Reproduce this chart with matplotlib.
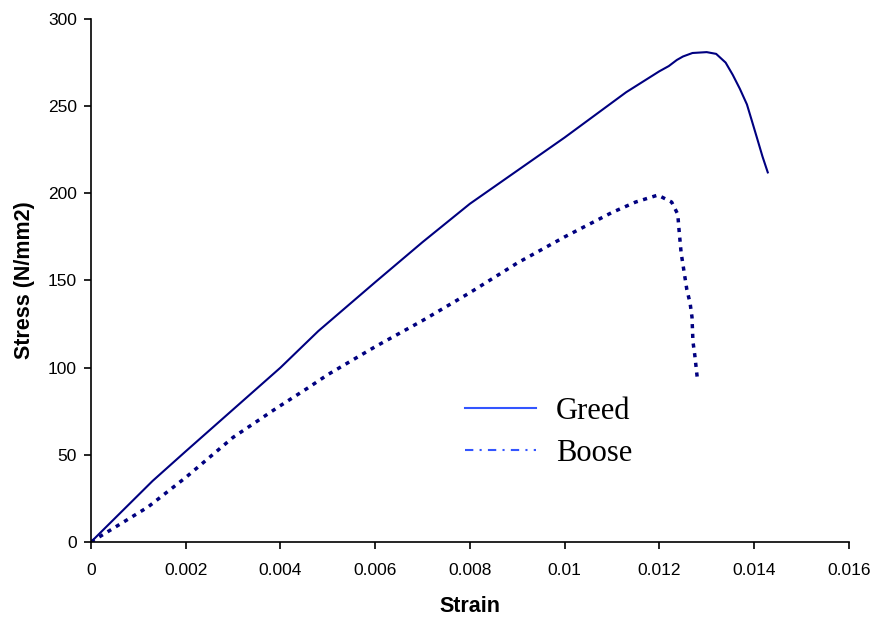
import matplotlib.pyplot as plt
from matplotlib.lines import Line2D

# Greed specimen
greed_strain = [0, 0.0013, 0.002, 0.003, 0.004, 0.0048, 0.006, 0.007, 0.008, 0.009,
                0.010, 0.011, 0.0113, 0.012, 0.0122, 0.01237, 0.0125, 0.0127, 0.0130,
                0.0132, 0.0134, 0.01355, 0.0137, 0.01385, 0.01395, 0.01406, 0.01418,
                0.01429]
greed_stress = [0, 35, 52, 76, 100, 121, 149, 172, 194, 213,
                232, 252, 258, 270, 273, 276.5, 278.5, 280.5, 281,
                280, 275, 268, 260, 251, 242, 232, 221,
                212]

# Boose specimen
boose_strain = [0, 0.0012, 0.002, 0.003, 0.00393, 0.00456, 0.005, 0.006, 0.007, 0.008,
                0.009, 0.010, 0.011, 0.0115, 0.01197, 0.01226, 0.01239, 0.01241,
                0.01246, 0.01254, 0.01258, 0.01265, 0.01269, 0.01271, 0.01275, 0.01281]
boose_stress = [0, 20, 37, 60, 77, 88, 96, 112, 127, 143,
                160, 175, 189, 195, 199, 195, 188, 181,
                166, 152, 145, 137, 129, 115, 107, 92]

navy = '#000080'

fig = plt.figure(figsize=(8.75, 6.17), dpi=100)
ax = fig.add_axes([0.104, 0.1216, 0.866, 0.8476])

ax.plot(greed_strain, greed_stress, color=navy, linewidth=1.5)
ax.plot(boose_strain, boose_stress, color=navy, linewidth=2.5, linestyle=(0, (1.2, 1.6)))

ax.set_xlim(0, 0.016)
ax.set_ylim(0, 300)
ax.set_xticks([0, 0.002, 0.004, 0.006, 0.008, 0.01, 0.012, 0.014, 0.016])
ax.set_xticklabels(['0', '0.002', '0.004', '0.006', '0.008', '0.01', '0.012', '0.014', '0.016'])
ax.set_yticks([0, 50, 100, 150, 200, 250, 300])

for s in ['top', 'right']:
    ax.spines[s].set_visible(False)
for s in ['left', 'bottom']:
    ax.spines[s].set_linewidth(1.2)
ax.tick_params(direction='out', length=5, width=1.2, labelsize=12.5)
ax.tick_params(axis='x', pad=10)
ax.tick_params(axis='y', pad=5)
for lbl in ax.get_xticklabels() + ax.get_yticklabels():
    lbl.set_family('Liberation Sans')

ax.set_xlabel('Strain', fontsize=15.5, fontweight='bold', family='Liberation Sans', labelpad=13)
ax.set_ylabel('Stress (N/mm2)', fontsize=15.5, fontweight='bold', family='Liberation Sans', labelpad=9)

handles = [Line2D([0], [0], color='#3355ff', linewidth=1.5),
           Line2D([0], [0], color='#3355ff', linewidth=1.5, linestyle=(0, (4, 3, 1, 3)))]
ax.legend(handles, ['Greed', 'Boose'], loc='upper left', bbox_to_anchor=(0.493, 0.278),
          frameon=False, prop={'family': 'Liberation Serif', 'size': 22},
          handlelength=2.35, handletextpad=0.65, labelspacing=0.43,
          borderpad=0, borderaxespad=0)

fig.savefig('out.png', dpi=100)
